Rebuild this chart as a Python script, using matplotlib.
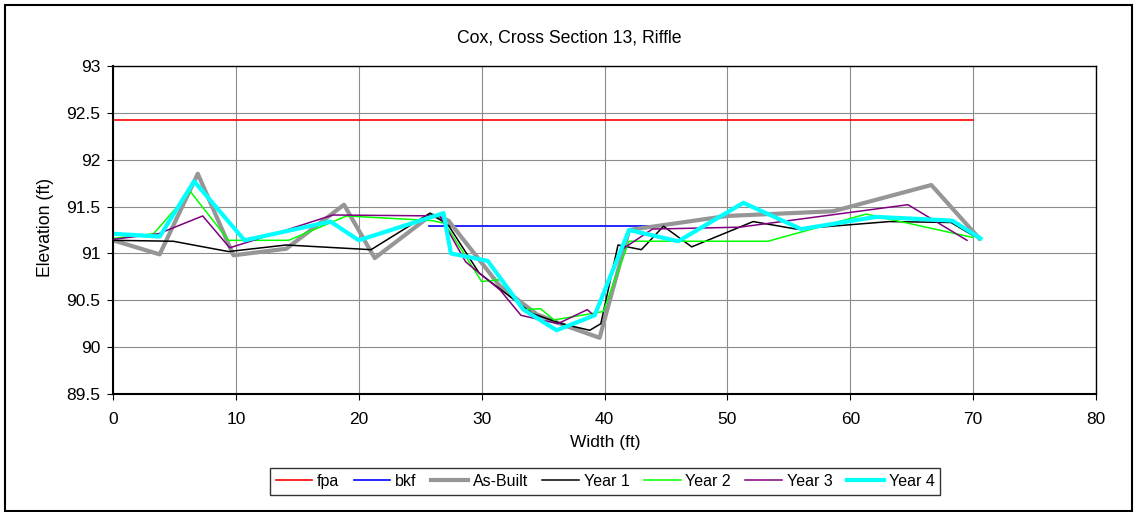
import matplotlib
matplotlib.use('Agg')
import matplotlib.pyplot as plt
from matplotlib.patches import Rectangle

plt.rcParams['font.family'] = ['Liberation Sans', 'DejaVu Sans']

# fpa / bkf reference lines
fpa_x = [0, 70]
fpa_y = [92.42, 92.42]
bkf_x = [25.7, 44.5]
bkf_y = [91.29, 91.29]

# surveyed cross sections
asbuilt_x = [0, 3.8, 6.9, 9.8, 14.1, 18.8, 21.3, 25.9, 27.3, 31.5, 34.5, 37.0, 39.6, 42.0, 50.0, 58.6, 66.6, 70.5]
asbuilt_y = [91.14, 90.99, 91.85, 90.98, 91.05, 91.52, 90.95, 91.41, 91.35, 90.65, 90.35, 90.22, 90.10, 91.25, 91.40, 91.45, 91.73, 91.16]

y1_x = [0, 4.9, 9.4, 14.1, 21.0, 25.8, 27.3, 29.8, 32.3, 34.1, 36.5, 38.8, 39.7, 41.1, 43.0, 44.8, 47.1, 52.1, 55.6, 63.2, 68.2, 70.0]
y1_y = [91.14, 91.13, 91.02, 91.09, 91.04, 91.43, 91.30, 90.79, 90.54, 90.36, 90.25, 90.18, 90.25, 91.09, 91.04, 91.29, 91.07, 91.34, 91.26, 91.34, 91.33, 91.19]

y2_x = [0, 3.3, 6.3, 9.4, 14.3, 19.0, 26.0, 27.0, 30.0, 31.5, 33.4, 34.8, 35.9, 39.9, 42.0, 44.5, 53.3, 61.3, 70.0]
y2_y = [91.16, 91.21, 91.66, 91.14, 91.14, 91.40, 91.35, 91.32, 90.70, 90.72, 90.40, 90.41, 90.29, 90.38, 91.13, 91.13, 91.13, 91.42, 91.17]

y3_x = [0, 3.7, 7.3, 9.5, 14.1, 17.9, 26.6, 28.7, 31.5, 33.2, 36.2, 38.6, 39.2, 41.4, 43.9, 51.0, 64.7, 69.5]
y3_y = [91.15, 91.21, 91.40, 91.06, 91.25, 91.41, 91.40, 90.91, 90.61, 90.34, 90.25, 90.40, 90.33, 91.04, 91.26, 91.28, 91.52, 91.14]

y4_x = [0, 3.8, 6.6, 10.7, 17.7, 20.0, 26.9, 27.5, 30.5, 33.4, 36.1, 39.2, 42.0, 46.0, 51.3, 56.0, 62.1, 68.3, 70.6]
y4_y = [91.21, 91.18, 91.77, 91.14, 91.34, 91.14, 91.43, 91.00, 90.92, 90.40, 90.18, 90.34, 91.25, 91.13, 91.54, 91.26, 91.39, 91.35, 91.16]

x_ticks = [0, 10, 20, 30, 40, 50, 60, 70, 80]
y_ticks = [89.5, 90, 90.5, 91, 91.5, 92, 92.5, 93]
y_tick_labels = ['89.5', '90', '90.5', '91', '91.5', '92', '92.5', '93']

fig = plt.figure(figsize=(11.35, 5.12), dpi=100, facecolor='white')
ax = fig.add_axes([113/1135, 1 - 394/512, (1096 - 113)/1135, (394 - 66)/512])

ax.plot(fpa_x, fpa_y, color='#FF0000', lw=1.2, label='fpa')
ax.plot(bkf_x, bkf_y, color='#0000FF', lw=1.2, label='bkf')
ax.plot(asbuilt_x, asbuilt_y, color='#969696', lw=3, label='As-Built')
ax.plot(y1_x, y1_y, color='black', lw=1.1, label='Year 1')
ax.plot(y2_x, y2_y, color='#00FF00', lw=1.1, label='Year 2')
ax.plot(y3_x, y3_y, color='#800080', lw=1.1, label='Year 3')
ax.plot(y4_x, y4_y, color='#00FFFF', lw=3, label='Year 4')

ax.set_xlim(0, 80)
ax.set_ylim(89.5, 93)
ax.set_xticks(x_ticks)
ax.set_yticks(y_ticks)
ax.set_yticklabels(y_tick_labels)
ax.grid(True, color='#8c8c8c', lw=0.8)
ax.set_axisbelow(True)
ax.tick_params(direction='out', length=4, width=0.8, labelsize=12.5, colors='black')
ax.tick_params(axis='x', pad=9)
ax.tick_params(axis='y', pad=5)
for s in ax.spines.values():
    s.set_linewidth(1.5)
    s.set_color('black')
ax.spines['top'].set_linewidth(1.0)
ax.spines['right'].set_linewidth(1.0)

fig.text(569/1135, 1 - 38/512, 'Cox, Cross Section 13, Riffle', ha='center', va='center', fontsize=12.7)
fig.text(605/1135, 1 - 442/512, 'Width (ft)', ha='center', va='center', fontsize=12.5)
fig.text(45/1135, 1 - 227.5/512, 'Elevation (ft)', ha='center', va='center', rotation=90, fontsize=12.7)

leg = fig.legend(loc='center', bbox_to_anchor=(605/1135, 1 - 481.5/512), ncol=7,
                 fontsize=11.5, frameon=True, fancybox=False, handlelength=2.3,
                 handletextpad=0.3, columnspacing=0.9, borderpad=0.35)
leg.get_frame().set_edgecolor('black')
leg.get_frame().set_linewidth(1.0)

fig.patches.append(Rectangle((5/1135, 1 - 511/512), (1132 - 5)/1135, (511 - 5)/512,
                             transform=fig.transFigure, fill=False, edgecolor='black', lw=1.5))

fig.savefig('out.png', dpi=100, facecolor='white')
